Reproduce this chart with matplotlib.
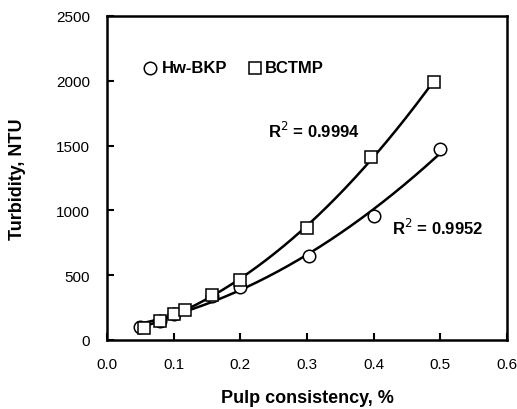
import numpy as np
import matplotlib
matplotlib.use("Agg")
import matplotlib.pyplot as plt

plt.rcParams['font.family'] = ['Liberation Sans', 'DejaVu Sans']

# Hw-BKP (circles)
hw_x = [0.05, 0.08, 0.10, 0.157, 0.20, 0.303, 0.40, 0.50]
hw_y = [100, 150, 200, 340, 410, 650, 955, 1475]

# BCTMP (squares)
bc_x = [0.055, 0.08, 0.10, 0.117, 0.157, 0.20, 0.30, 0.396, 0.49]
bc_y = [95, 150, 200, 230, 350, 465, 862, 1412, 1990]

fig = plt.figure(figsize=(5.17, 4.10), dpi=100)
ax = fig.add_axes([107 / 517, 69 / 410, 400 / 517, 324 / 410])

# second-order trendlines
for xs, ys in [(hw_x, hw_y), (bc_x, bc_y)]:
    c = np.polyfit(xs, ys, 2)
    xx = np.linspace(min(xs), max(xs), 200)
    ax.plot(xx, np.polyval(c, xx), color='black', lw=1.8, zorder=2)

ax.plot(hw_x, hw_y, 'o', ms=9, mfc='white', mec='black', mew=1.1, zorder=3)
ax.plot(bc_x, bc_y, 's', ms=9, mfc='white', mec='black', mew=1.1, zorder=3)

# legend drawn as in the original figure
ax.plot([0.0645], [2100], 'o', ms=9, mfc='white', mec='black', mew=1.1, clip_on=False)
ax.text(0.082, 2100, 'Hw-BKP', fontsize=12, fontweight='bold', va='center')
ax.plot([0.222], [2100], 's', ms=9, mfc='white', mec='black', mew=1.1, clip_on=False)
ax.text(0.237, 2100, 'BCTMP', fontsize=12, fontweight='bold', va='center')

ax.text(0.241, 1620, 'R$^2$ = 0.9994', fontsize=12, fontweight='bold', va='center')
ax.text(0.428, 872, 'R$^2$ = 0.9952', fontsize=12, fontweight='bold', va='center')

ax.set_xlim(0, 0.6)
ax.set_ylim(0, 2500)
ax.set_xticks(np.arange(0, 0.61, 0.1))
ax.set_xticklabels(['0.0', '0.1', '0.2', '0.3', '0.4', '0.5', '0.6'])
ax.set_yticks(np.arange(0, 2501, 500))
ax.tick_params(direction='in', length=5, width=1.5, labelsize=11, pad=12)
for s in ax.spines.values():
    s.set_linewidth(1.8)

ax.set_xlabel('Pulp consistency, %', fontsize=13, fontweight='bold', labelpad=13)
ax.set_ylabel('Turbidity, NTU', fontsize=13, fontweight='bold', labelpad=22)

fig.savefig('out.png', dpi=100)
